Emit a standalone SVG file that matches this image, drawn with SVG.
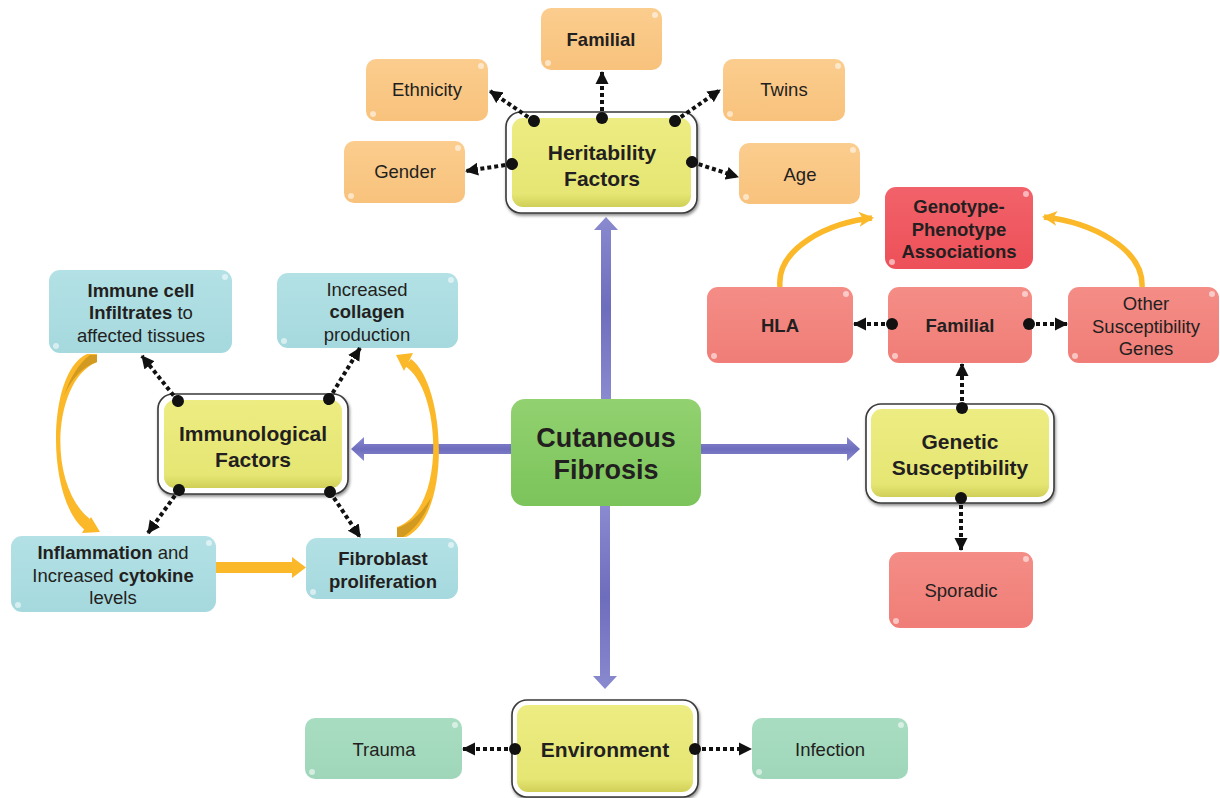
<svg xmlns="http://www.w3.org/2000/svg" width="1220" height="798" viewBox="0 0 1220 798">
<defs>
<linearGradient id="gOr" x1="0" y1="0" x2="0" y2="1"><stop offset="0" stop-color="#fbcd8e"/><stop offset="1" stop-color="#f8c27c"/></linearGradient>
<linearGradient id="gBl" x1="0" y1="0" x2="0" y2="1"><stop offset="0" stop-color="#b3e1e5"/><stop offset="1" stop-color="#a5d9de"/></linearGradient>
<linearGradient id="gRd" x1="0" y1="0" x2="0" y2="1"><stop offset="0" stop-color="#f48d86"/><stop offset="1" stop-color="#f07d77"/></linearGradient>
<linearGradient id="gRd2" x1="0" y1="0" x2="0" y2="1"><stop offset="0" stop-color="#f2626a"/><stop offset="1" stop-color="#ed5058"/></linearGradient>
<linearGradient id="gGr" x1="0" y1="0" x2="0" y2="1"><stop offset="0" stop-color="#92d170"/><stop offset="1" stop-color="#7bc45a"/></linearGradient>
<linearGradient id="gTe" x1="0" y1="0" x2="0" y2="1"><stop offset="0" stop-color="#a9ddc2"/><stop offset="1" stop-color="#9fd6b9"/></linearGradient>
<linearGradient id="gYe" x1="0" y1="0" x2="0" y2="1"><stop offset="0" stop-color="#ecec82"/><stop offset="0.85" stop-color="#e6e674"/><stop offset="1" stop-color="#cfcf58"/></linearGradient>
<linearGradient id="gBlue" x1="0" y1="0" x2="0" y2="1"><stop offset="0" stop-color="#8a8ad0"/><stop offset="0.5" stop-color="#6d6dbd"/><stop offset="1" stop-color="#8a8ad0"/></linearGradient>
<filter id="sh" x="-10%" y="-10%" width="120%" height="130%"><feDropShadow dx="1" dy="2" stdDeviation="1.5" flood-color="#000" flood-opacity="0.45"/></filter>
<marker id="dot" viewBox="-7 -7 14 14" refX="0" refY="0" markerWidth="14" markerHeight="14" markerUnits="userSpaceOnUse" orient="auto"><circle r="6" fill="#111"/></marker>
<marker id="ah" viewBox="0 -7 13 14" refX="12" refY="0" markerWidth="13" markerHeight="14" markerUnits="userSpaceOnUse" orient="auto"><path d="M0,-6.5 L13,0 L0,6.5 z" fill="#111"/></marker>
<marker id="oh" viewBox="0 -8 16 16" refX="13" refY="0" markerWidth="16" markerHeight="16" markerUnits="userSpaceOnUse" orient="auto"><path d="M0,-7.5 L15,0 L0,7.5 L4,0 z" fill="#fbb829"/></marker>
</defs>
<style>
text{font-family:"Liberation Sans",Arial,sans-serif;fill:#231f20;text-anchor:middle}
.s{font-size:18.5px}
.b{font-weight:bold}
.m{font-size:21px;font-weight:bold}
.box{stroke:none}
.frame{fill:#ffffff;stroke:#3a3a3a;stroke-width:1.6}
.inner{fill:url(#gYe)}
.hl{fill:#ffffff;opacity:0.55}
.dc{fill:none;stroke:#111;stroke-width:4;stroke-dasharray:4 3;marker-start:url(#dot);marker-end:url(#ah)}
.oa{fill:none;stroke:#fbb829;stroke-width:5.5;marker-end:url(#oh)}
.ba{fill:url(#gBlue)}
.of{fill:#fbb829}
.od{fill:#d39a22}
</style>
<rect width="1220" height="798" fill="#ffffff"/>

<g id="heritability">
<rect class="frame" x="506" y="112" width="191" height="101" rx="15" filter="url(#sh)"/>
<rect class="inner" x="512" y="118" width="179" height="89" rx="11"/>
<text class="m" x="602" y="160">Heritability</text>
<text class="m" x="602" y="186">Factors</text>
</g>
<g id="familial-h">
<rect class="box" x="541" y="8" width="121" height="62" rx="10" fill="url(#gOr)"/>
<circle class="hl" cx="655" cy="15" r="3"/><circle class="hl" cx="548" cy="63" r="3"/>
<text class="s b" x="601" y="46">Familial</text>
</g>
<g id="ethnicity">
<rect class="box" x="366" y="59" width="122" height="62" rx="10" fill="url(#gOr)"/>
<circle class="hl" cx="481" cy="66" r="3"/><circle class="hl" cx="373" cy="114" r="3"/>
<text class="s" x="427" y="96">Ethnicity</text>
</g>
<g id="twins">
<rect class="box" x="723" y="59" width="122" height="62" rx="10" fill="url(#gOr)"/>
<circle class="hl" cx="838" cy="66" r="3"/><circle class="hl" cx="730" cy="114" r="3"/>
<text class="s" x="784" y="96">Twins</text>
</g>
<g id="gender">
<rect class="box" x="344" y="141" width="121" height="62" rx="10" fill="url(#gOr)"/>
<circle class="hl" cx="458" cy="148" r="3"/><circle class="hl" cx="351" cy="196" r="3"/>
<text class="s" x="405" y="178">Gender</text>
</g>
<g id="age">
<rect class="box" x="739" y="143" width="121" height="61" rx="10" fill="url(#gOr)"/>
<circle class="hl" cx="853" cy="150" r="3"/><circle class="hl" cx="746" cy="197" r="3"/>
<text class="s" x="800" y="181">Age</text>
</g>

<g id="immunological">
<rect class="frame" x="158" y="394" width="190" height="100" rx="15" filter="url(#sh)"/>
<rect class="inner" x="164" y="400" width="178" height="88" rx="11"/>
<text class="m" x="253" y="441">Immunological</text>
<text class="m" x="253" y="467">Factors</text>
</g>
<g id="immune-cell">
<rect class="box" x="49" y="270" width="183" height="83" rx="11" fill="url(#gBl)"/>
<circle class="hl" cx="225" cy="277" r="3"/><circle class="hl" cx="56" cy="346" r="3"/>
<text class="s" x="141" y="297"><tspan class="b">Immune cell</tspan></text>
<text class="s" x="141" y="319"><tspan class="b">Infiltrates</tspan> to</text>
<text class="s" x="141" y="342">affected tissues</text>
</g>
<g id="collagen">
<rect class="box" x="277" y="273" width="181" height="75" rx="11" fill="url(#gBl)"/>
<circle class="hl" cx="451" cy="280" r="3"/><circle class="hl" cx="284" cy="341" r="3"/>
<text class="s" x="367" y="296">Increased</text>
<text class="s b" x="367" y="318">collagen</text>
<text class="s" x="367" y="341">production</text>
</g>
<g id="inflammation">
<rect class="box" x="11" y="536" width="205" height="76" rx="11" fill="url(#gBl)"/>
<circle class="hl" cx="209" cy="543" r="3"/><circle class="hl" cx="18" cy="605" r="3"/>
<text class="s" x="113" y="559"><tspan class="b">Inflammation</tspan> and</text>
<text class="s" x="113" y="582">Increased <tspan class="b">cytokine</tspan></text>
<text class="s" x="113" y="604">levels</text>
</g>
<g id="fibroblast">
<rect class="box" x="306" y="538" width="152" height="61" rx="11" fill="url(#gBl)"/>
<circle class="hl" cx="451" cy="545" r="3"/><circle class="hl" cx="313" cy="592" r="3"/>
<text class="s b" x="383" y="565">Fibroblast</text>
<text class="s b" x="383" y="588">proliferation</text>
</g>

<g id="cutaneous-fibrosis">
<rect x="511" y="399" width="190" height="107" rx="14" fill="url(#gGr)"/>
<text x="606" y="447" style="font-size:27px;font-weight:bold">Cutaneous</text>
<text x="606" y="479" style="font-size:27px;font-weight:bold">Fibrosis</text>
</g>

<g id="genetic">
<rect class="frame" x="866" y="404" width="188" height="99" rx="15" filter="url(#sh)"/>
<rect class="inner" x="871" y="409" width="178" height="88" rx="11"/>
<text class="m" x="960" y="449">Genetic</text>
<text class="m" x="960" y="475">Susceptibility</text>
</g>
<g id="genotype">
<rect class="box" x="885" y="187" width="148" height="82" rx="11" fill="url(#gRd2)"/>
<circle class="hl" cx="1026" cy="194" r="3"/><circle class="hl" cx="892" cy="262" r="3"/>
<text class="s b" x="959" y="213">Genotype-</text>
<text class="s b" x="959" y="236">Phenotype</text>
<text class="s b" x="959" y="258">Associations</text>
</g>
<g id="hla">
<rect class="box" x="707" y="287" width="146" height="76" rx="11" fill="url(#gRd)"/>
<circle class="hl" cx="846" cy="294" r="3"/><circle class="hl" cx="714" cy="356" r="3"/>
<text class="s b" x="780" y="332">HLA</text>
</g>
<g id="familial-g">
<rect class="box" x="888" y="287" width="144" height="76" rx="11" fill="url(#gRd)"/>
<circle class="hl" cx="1025" cy="294" r="3"/><circle class="hl" cx="895" cy="356" r="3"/>
<text class="s b" x="960" y="332">Familial</text>
</g>
<g id="other-genes">
<rect class="box" x="1068" y="287" width="151" height="76" rx="11" fill="url(#gRd)"/>
<circle class="hl" cx="1212" cy="294" r="3"/><circle class="hl" cx="1075" cy="356" r="3"/>
<text class="s" x="1146" y="310">Other</text>
<text class="s" x="1146" y="333">Susceptibility</text>
<text class="s" x="1146" y="355">Genes</text>
</g>
<g id="sporadic">
<rect class="box" x="889" y="552" width="144" height="76" rx="11" fill="url(#gRd)"/>
<circle class="hl" cx="1026" cy="559" r="3"/><circle class="hl" cx="896" cy="621" r="3"/>
<text class="s" x="961" y="597">Sporadic</text>
</g>

<g id="environment">
<rect class="frame" x="512" y="700" width="186" height="97" rx="15" filter="url(#sh)"/>
<rect class="inner" x="517" y="705" width="176" height="87" rx="11"/>
<text class="m" x="605" y="757">Environment</text>
</g>
<g id="trauma">
<rect class="box" x="305" y="718" width="157" height="61" rx="10" fill="url(#gTe)"/>
<circle class="hl" cx="455" cy="725" r="3"/><circle class="hl" cx="312" cy="772" r="3"/>
<text class="s" x="384" y="756">Trauma</text>
</g>
<g id="infection">
<rect class="box" x="752" y="718" width="156" height="61" rx="10" fill="url(#gTe)"/>
<circle class="hl" cx="901" cy="725" r="3"/><circle class="hl" cx="759" cy="772" r="3"/>
<text class="s" x="830" y="756">Infection</text>
</g>

<g id="connectors">
<!-- blue arrows -->
<polygon class="ba" points="601,399 601,230 594,230 606,217 618,230 611,230 611,399"/>
<polygon class="ba" points="600,506 600,676 593,676 605,689 617,676 610,676 610,506"/>
<polygon class="ba" points="511,444 364,444 364,437 351,449 364,461 364,454 511,454"/>
<polygon class="ba" points="701,444 847,444 847,437 860,449 847,461 847,454 701,454"/>
<!-- heritability -->
<path class="dc" d="M534,121 L490,91"/>
<path class="dc" d="M602,118 L602,72"/>
<path class="dc" d="M675,121 L720,90"/>
<path class="dc" d="M512,164 L466,171"/>
<path class="dc" d="M692,162 L738,177"/>
<!-- immunological -->
<path class="dc" d="M178,401 L142,356"/>
<path class="dc" d="M329,399 L360,348"/>
<path class="dc" d="M179,490 L148,533"/>
<path class="dc" d="M330,492 L360,537"/>
<!-- genetic -->
<path class="dc" d="M892,324 L854,324"/>
<path class="dc" d="M1029,324 L1067,324"/>
<path class="dc" d="M962,408 L962,364"/>
<path class="dc" d="M961,498 L961,550"/>
<!-- environment -->
<path class="dc" d="M515,749 L463,749"/>
<path class="dc" d="M695,749 L751,749"/>
<!-- orange ribbon arcs -->
<path class="of" d="M87,354 L97,354 L97,362 C52,380 47,486 90,519 L85,530 C46,500 46,372 87,354 z"/>
<path class="od" d="M90,355 L97,355 L97,362 C82,367 72,378 64,396 C70,378 78,364 90,355 z"/>
<polygon class="of" points="100,532 82,533 91,517"/>
<path class="of" d="M397,537 L406,537 C452,515 446,385 411,359 L405,366 C442,390 446,510 397,527 z"/>
<path class="od" d="M397,528 L397,537 L403,537 C416,528 426,515 431,498 C421,514 410,524 397,528 z"/>
<polygon class="of" points="396,355 413,353 404,371"/>
<path class="oa" d="M780,287 C776,248 830,222 872,218"/>
<path class="oa" d="M1142,287 C1144,248 1090,222 1044,217"/>
<polygon class="of" points="216,562 216,573 292,573 292,578 306,567.5 292,557 292,562"/>
</g>
</svg>
